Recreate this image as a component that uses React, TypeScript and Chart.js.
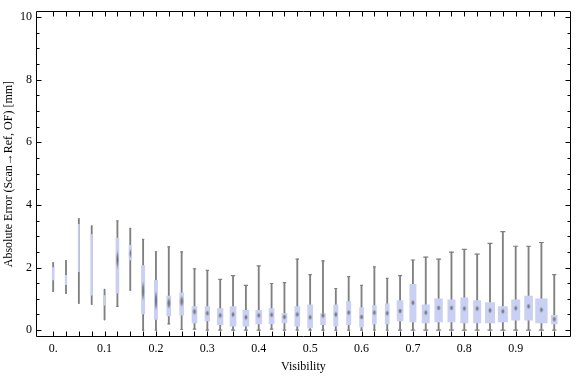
import { useEffect, useRef } from 'react';
import { Chart, registerables } from 'chart.js';
Chart.register(...registerables);

// ---- data ----
const visibility = [
  0, 0.025, 0.05, 0.075, 0.1, 0.125, 0.15, 0.175, 0.2, 0.225,
  0.25, 0.275, 0.3, 0.325, 0.35, 0.375, 0.4, 0.425, 0.45, 0.475,
  0.5, 0.525, 0.55, 0.575, 0.6, 0.625, 0.65, 0.675, 0.7, 0.725,
  0.75, 0.775, 0.8, 0.825, 0.85, 0.875, 0.9, 0.925, 0.95, 0.975,
];
const whiskerLow = [
  1.24, 1.17, 0.85, 0.82, 0.33, 0.76, 1.28, 0.0, 0.0, 0.2,
  0.02, 0.03, 0.0, 0.0, 0.0, 0.0, 0.0, 0.03, 0.0, 0.0,
  0.0, 0.0, 0.0, 0.0, 0.0, 0.0, 0.0, 0.0, 0.0, 0.0,
  0.0, 0.0, 0.0, 0.0, 0.0, 0.0, 0.0, 0.0, 0.0, 0.0,
];
const quartile1 = [
  1.6, 1.45, 1.87, 1.12, 0.8, 1.18, 2.24, 0.52, 0.34, 0.45,
  0.48, 0.23, 0.29, 0.17, 0.13, 0.13, 0.2, 0.2, 0.23, 0.13,
  0.07, 0.17, 0.13, 0.17, 0.1, 0.2, 0.2, 0.29, 0.26, 0.23,
  0.26, 0.26, 0.23, 0.23, 0.23, 0.26, 0.32, 0.32, 0.23, 0.2,
];
const medians = [
  1.8, 1.6, 2.5, 2.0, 0.95, 2.25, 2.45, 1.25, 0.94, 0.86,
  0.92, 0.59, 0.54, 0.47, 0.5, 0.41, 0.47, 0.49, 0.42, 0.5,
  0.41, 0.47, 0.5, 0.56, 0.42, 0.56, 0.54, 0.61, 0.875, 0.56,
  0.71, 0.71, 0.69, 0.69, 0.63, 0.6, 0.7, 0.76, 0.65, 0.35,
];
const quartile3 = [
  2.0, 1.75, 3.38, 3.05, 1.1, 2.94, 2.71, 2.06, 1.59, 1.09,
  1.19, 0.75, 0.75, 0.69, 0.75, 0.63, 0.63, 0.69, 0.53, 0.75,
  0.81, 0.53, 0.81, 0.91, 0.72, 0.78, 0.84, 0.94, 1.46, 0.81,
  1.0, 0.97, 1.03, 0.94, 0.88, 0.75, 0.97, 1.09, 1.0, 0.47,
];
const whiskerHigh = [
  2.15, 2.22, 3.56, 3.33, 1.3, 3.49, 3.25, 2.9, 2.5, 2.66,
  2.5, 1.96, 1.91, 1.62, 1.74, 1.43, 2.05, 1.49, 1.52, 2.27,
  1.77, 2.21, 1.33, 1.71, 1.43, 2.02, 1.65, 1.74, 2.24, 2.33,
  2.27, 2.49, 2.58, 2.43, 2.77, 3.15, 2.68, 2.68, 2.8, 1.77,
];
const xTickValues = [0, 0.1, 0.2, 0.3, 0.4, 0.5, 0.6, 0.7, 0.8, 0.9];
const xTickLabels = ['0.', '0.1', '0.2', '0.3', '0.4', '0.5', '0.6', '0.7', '0.8', '0.9'];
const yTickValues = [0, 2, 4, 6, 8, 10];
const yTickLabels = ['0', '2', '4', '6', '8', '10'];

// ---- styles ----
const boxWidthsPx = [
  2, 1.5, 1, 1.5, 1, 3, 2.5, 3.3, 3.3, 4,
  4, 5, 4.7, 5.7, 6, 6, 6, 5, 5, 5,
  5, 5, 4.3, 4.3, 4, 4, 4, 6, 6.3, 7.3,
  7.7, 7.3, 7.3, 7.3, 9.3, 9.3, 8.3, 8, 11.7, 6,
];
const medianBlobH = [
  0, 0, 0, 0, 0, 20, 10, 21, 21, 12,
  12, 7, 6, 6, 6, 6, 6, 6, 6, 6,
  6, 6, 6, 6, 6, 6, 6, 6, 6, 6,
  6, 6, 6, 6, 6, 6, 6, 6, 6, 6,
];
const BOX_COLOR = '#cad0f4';
const WHISKER_COLOR = '#808080';
const FONT = 'Liberation Serif';

function makeBlob(w: number, h: number) {
  const c = document.createElement('canvas');
  c.width = Math.ceil(w) + 2;
  c.height = Math.ceil(h) + 2;
  const g = c.getContext('2d')!;
  g.save();
  g.translate(c.width / 2, c.height / 2);
  g.scale(w / 2, h / 2);
  const rg = g.createRadialGradient(0, 0, 0, 0, 0, 1);
  rg.addColorStop(0, 'rgba(100,100,100,1)');
  rg.addColorStop(0.5, 'rgba(120,120,120,0.85)');
  rg.addColorStop(1, 'rgba(140,140,140,0)');
  g.fillStyle = rg;
  g.beginPath();
  g.arc(0, 0, 1, 0, Math.PI * 2);
  g.fill();
  g.restore();
  return c;
}

const framePlugin = {
  id: 'frameTicks',
  afterDraw(chart: any) {
    const { ctx, chartArea } = chart;
    const { left, right, top, bottom } = chartArea;
    const xs = chart.scales.x;
    const ys = chart.scales.y;
    ctx.save();
    ctx.strokeStyle = '#000';
    ctx.lineWidth = 1;
    const L = Math.round(left) + 0.5;
    const R = Math.round(right) - 0.5;
    const T = Math.round(top) + 0.5;
    const B = Math.round(bottom) - 0.5;
    ctx.beginPath();
    ctx.rect(L, T, R - L, B - T);
    for (const v of visibility) {
      const px = Math.round(xs.getPixelForValue(v)) + 0.5;
      ctx.moveTo(px, B); ctx.lineTo(px, B - 5);
      ctx.moveTo(px, T); ctx.lineTo(px, T + 5);
    }
    for (let k = 0; k <= 20; k++) {
      const v = k * 0.5;
      const py = Math.round(ys.getPixelForValue(v)) + 0.5;
      const len = k % 4 === 0 ? 5 : 3;
      ctx.moveTo(L, py); ctx.lineTo(L + len, py);
      ctx.moveTo(R, py); ctx.lineTo(R - len, py);
    }
    ctx.stroke();
    ctx.restore();
  },
};

export default function App() {
  const ref = useRef<HTMLCanvasElement>(null);
  useEffect(() => {
    if (!ref.current) return;
    Chart.defaults.font.family = FONT;
    const blobs = visibility.map((_, i) =>
      medianBlobH[i] > 0 ? makeBlob(Math.min(4, boxWidthsPx[i]), medianBlobH[i]) : makeBlob(1, 1)
    );
    const capPts: any[] = [];
    visibility.forEach((v, i) => {
      capPts.push({ x: v, y: whiskerLow[i] });
      capPts.push({ x: v, y: whiskerHigh[i] });
    });
    const boxSets = visibility.map((v, i) => ({
      type: 'bar',
      data: [{ x: v, y: [quartile1[i], quartile3[i]] }],
      barThickness: boxWidthsPx[i],
      grouped: false,
      backgroundColor: BOX_COLOR,
      borderWidth: 0,
      order: 2,
    }));
    const chart = new Chart(ref.current, {
      type: 'bar',
      data: {
        datasets: [
          {
            type: 'bar',
            data: visibility.map((v, i) => ({ x: v, y: [whiskerLow[i], whiskerHigh[i]] })),
            barThickness: 1.2,
            grouped: false,
            backgroundColor: WHISKER_COLOR,
            borderWidth: 0,
            order: 4,
          } as any,
          {
            type: 'scatter',
            data: capPts,
            pointStyle: 'line',
            pointRadius: (c: any) => {
              const w = boxWidthsPx[Math.floor(c.dataIndex / 2)];
              return Math.max(0.5, Math.min(2.5, w * 0.35));
            },
            pointBorderColor: WHISKER_COLOR,
            pointBorderWidth: 1.2,
            order: 3,
          } as any,
          ...(boxSets as any[]),
          {
            type: 'scatter',
            data: visibility.map((v, i) => ({ x: v, y: medians[i] })),
            pointStyle: (c: any) => blobs[c.dataIndex],
            pointRadius: (c: any) => (medianBlobH[c.dataIndex] > 0 ? 3 : 0),
            order: 1,
          } as any,
        ],
      },
      options: {
        animation: false,
        responsive: false,
        events: [],
        layout: { padding: { top: 4, right: 1, left: 0, bottom: 0 } },
        plugins: { legend: { display: false }, tooltip: { enabled: false } },
        scales: {
          x: {
            type: 'linear',
            offset: false,
            min: -0.0334,
            max: 1.0072,
            grid: { display: false, drawTicks: false, offset: false },
            border: { display: false },
            afterBuildTicks: (s: any) => { s.ticks = xTickValues.map((v) => ({ value: v })); },
            afterFit: (s: any) => { s.height = 40; },
            ticks: {
              autoSkip: false,
              maxRotation: 0,
              padding: 5,
              color: '#000',
              font: { family: FONT, size: 12 },
              callback: (v: any) => {
                const idx = xTickValues.indexOf(Number(v));
                return idx >= 0 ? xTickLabels[idx] : '';
              },
            },
            title: {
              display: true,
              text: 'Visibility',
              color: '#000',
              font: { family: FONT, size: 12 },
              padding: { top: 0, bottom: 3 },
            },
          },
          y: {
            type: 'linear',
            min: -0.22,
            max: 10.19,
            grid: { display: false, drawTicks: false },
            border: { display: false },
            afterBuildTicks: (s: any) => { s.ticks = yTickValues.map((v) => ({ value: v })); },
            afterFit: (s: any) => { s.width = 36; },
            ticks: {
              autoSkip: false,
              padding: 4,
              color: '#000',
              font: { family: FONT, size: 12 },
              callback: (v: any) => {
                const idx = yTickValues.indexOf(Number(v));
                return idx >= 0 ? yTickLabels[idx] : '';
              },
            },
            title: {
              display: true,
              text: 'Absolute Error (Scan\u2192Ref, OF) [mm]',
              color: '#000',
              font: { family: FONT, size: 12 },
              padding: { top: 2, bottom: 0 },
            },
          },
        },
      },
      plugins: [framePlugin],
    } as any);
    return () => chart.destroy();
  }, []);
  return (
    <div style={{ position: 'absolute', left: 0, top: 0, width: 576, height: 377, background: '#fff' }}>
      <canvas ref={ref} width={576} height={377} />
    </div>
  );
}
